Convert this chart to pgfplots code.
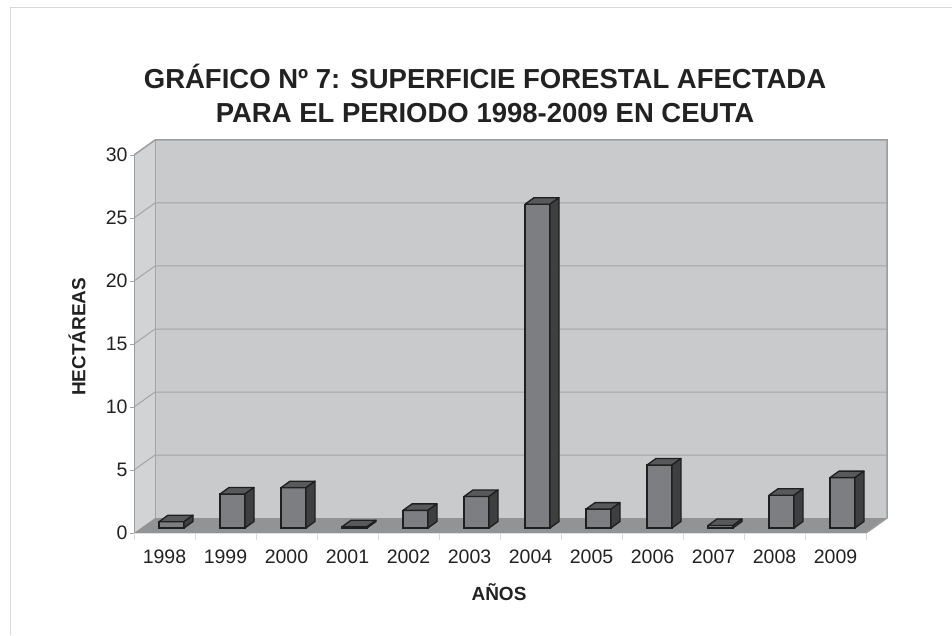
\documentclass[border=0pt]{standalone}
\usepackage{pgfplots}
\pgfplotsset{compat=1.18}
\usepackage{fontspec}
\setmainfont{Liberation Sans}
\definecolor{backwall}{HTML}{C9CACC}
\definecolor{sidewall}{HTML}{D2D3D5}
\definecolor{floorc}{HTML}{929395}
\definecolor{gridc}{HTML}{A4A5A7}
\definecolor{edgewall}{HTML}{9C9D9F}
\definecolor{frontc}{HTML}{7D7E81}
\definecolor{topc}{HTML}{58595B}
\definecolor{sidec}{HTML}{3E3F41}
\definecolor{edgec}{HTML}{1F1F1F}
\definecolor{textc}{HTML}{222222}
\pgfdeclareplotmark{nothing}{}
\begin{document}
\begin{tikzpicture}[x=1pt,y=1pt]
\path[use as bounding box] (0,0) rectangle (952,635);
\draw[black!15, line width=1pt] (10,0) -- (10,627) -- (952,627);
\node[font=\fontsize{27.5}{34}\selectfont\bfseries, text=textc, align=center] at (485,542) {GRÁFICO Nº 7: SUPERFICIE FORESTAL AFECTADA\\PARA EL PERIODO 1998-2009 EN CEUTA};
\begin{axis}[
  at={(134pt,102pt)}, anchor=south west,
  scale only axis, width=732pt, height=378pt,
  xmin=-0.5, xmax=11.5, ymin=0, ymax=30,
  clip=false,
  axis line style={draw=none},
  tick pos=left,
  tick align=outside,
  ytick={0,5,...,30},
  xtick={0,...,11},
  xticklabels={1998,1999,2000,2001,2002,2003,2004,2005,2006,2007,2008,2009},
  x tick style={draw=none},
  y tick style={draw=gridc, line width=0.8pt},
  major tick length=4pt,
  /pgf/number format/assume math mode=true,
  ticklabel style={font=\fontsize{19.5}{19.5}\selectfont, text=textc},
  xticklabel style={anchor=center, yshift=-20pt},
  yticklabel style={anchor=east, xshift=1pt},
  xlabel={AÑOS}, ylabel={HECTÁREAS},
  label style={font=\fontsize{19}{19}\selectfont\bfseries, text=textc},
  xlabel style={at={(axis description cs:0.4986,-0.156)}, anchor=center},
  ylabel style={at={(axis description cs:-0.0779,0.519)}, anchor=center},
]
% walls and floor
\fill[sidewall] (axis cs:-0.5,0) -- (axis cs:-0.5,30) -- ([shift={(21pt,15pt)}]axis cs:-0.5,30) -- ([shift={(21pt,15pt)}]axis cs:-0.5,0) -- cycle;
\fill[backwall] ([shift={(21pt,15pt)}]axis cs:-0.5,0) rectangle ([shift={(21pt,15pt)}]axis cs:11.5,30);
\fill[floorc] (axis cs:-0.5,0) -- (axis cs:11.5,0) -- ([shift={(21pt,15pt)}]axis cs:11.5,0) -- ([shift={(21pt,15pt)}]axis cs:-0.5,0) -- cycle;
\pgfplotsinvokeforeach{5,10,15,20,25}{
  \draw[gridc, line width=1pt] (axis cs:-0.5,#1) -- ([shift={(21pt,15pt)}]axis cs:-0.5,#1) -- ([shift={(21pt,15pt)}]axis cs:11.5,#1);
}
\draw[edgewall, line width=1.5pt] (axis cs:-0.5,30) -- ([shift={(21pt,15pt)}]axis cs:-0.5,30) -- ([shift={(21pt,15pt)}]axis cs:11.5,30) -- ([shift={(21pt,15pt)}]axis cs:11.5,0) -- (axis cs:11.5,0);
\draw[gridc, line width=1pt] ([shift={(21pt,15pt)}]axis cs:-0.5,30) -- ([shift={(21pt,15pt)}]axis cs:-0.5,0);
\draw[edgewall, line width=1pt] (axis cs:-0.5,0) -- (axis cs:-0.5,30);
\draw[black!12, line width=1pt] (axis cs:-0.5,0) -- (axis cs:11.5,0);
\pgfplotsinvokeforeach{-0.5,0.5,1.5,2.5,3.5,4.5,5.5,6.5,7.5,8.5,9.5,10.5,11.5}{
  \draw[black!15, line width=1pt] (axis cs:#1,0) -- ([yshift=-7pt]axis cs:#1,0);
}
% bars: front faces
\addplot[ybar, bar width=25pt, bar shift=7pt, yshift=5pt, fill=frontc, draw=edgec, line width=1.3pt]
coordinates {(0,0.5) (1,2.7) (2,3.2) (3,0.1) (4,1.4) (5,2.5) (6,25.7) (7,1.5) (8,5.0) (9,0.2) (10,2.6) (11,4.0)};
% bars: top and side faces
\addplot[scatter, only marks, mark=nothing,
  visualization depends on={rawy \as \ry},
  scatter/@pre marker code/.code={%
    \filldraw[fill=topc, draw=edgec, line width=1.3pt, line join=round] (-5.5pt,5pt) -- (19.5pt,5pt) -- (28.5pt,11.5pt) -- (3.5pt,11.5pt) -- cycle;
    \filldraw[fill=sidec, draw=edgec, line width=1.3pt, line join=round] (19.5pt,5pt) -- (28.5pt,11.5pt) -- (28.5pt,{11.5pt-\ry*12.6pt}) -- (19.5pt,{5pt-\ry*12.6pt}) -- cycle;
  },
  scatter/@post marker code/.code={},
]
coordinates {(0,0.5) (1,2.7) (2,3.2) (3,0.1) (4,1.4) (5,2.5) (6,25.7) (7,1.5) (8,5.0) (9,0.2) (10,2.6) (11,4.0)};
\end{axis}
\end{tikzpicture}
\end{document}
